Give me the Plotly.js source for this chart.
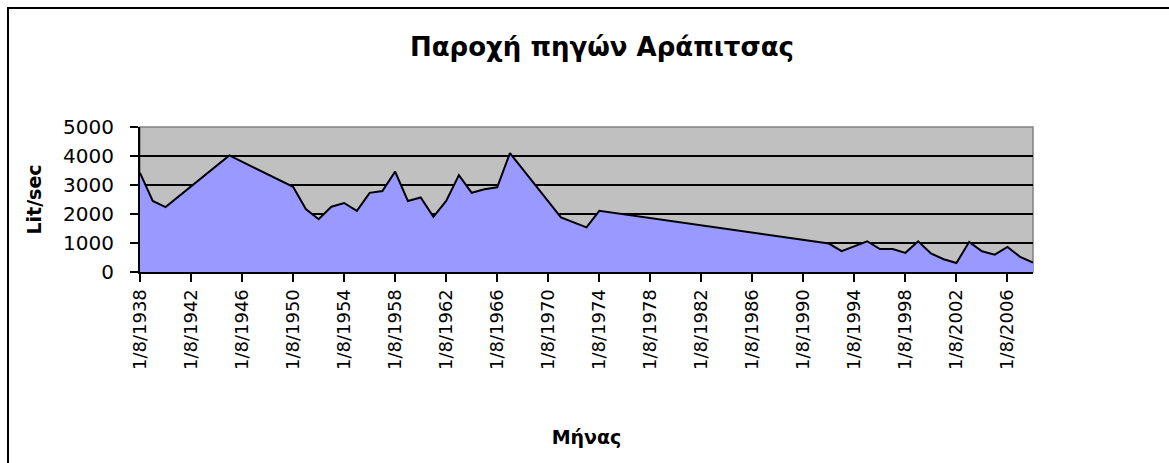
<!DOCTYPE html>
<html>
<head>
<meta charset="utf-8">
<script src="https://cdn.plot.ly/plotly-3.0.1.min.js"></script>
<style>
  html, body { margin: 0; padding: 0; background: #ffffff; }
  #chart { width: 1169px; height: 463px; }
</style>
</head>
<body>
<div id="chart"></div>
<script>
// Dates of the measurements (1 August of each year)
const dates = [
  '1938-08-01','1939-08-01','1940-08-01','1945-08-01','1950-08-01','1951-08-01',
  '1952-08-01','1953-08-01','1954-08-01','1955-08-01','1956-08-01','1957-08-01',
  '1958-08-01','1959-08-01','1960-08-01','1961-08-01','1962-08-01','1963-08-01',
  '1964-08-01','1965-08-01','1966-08-01','1967-08-01','1971-08-01','1973-08-01',
  '1974-08-01','1992-08-01','1993-08-01','1994-08-01','1995-08-01','1996-08-01',
  '1997-08-01','1998-08-01','1999-08-01','2000-08-01','2001-08-01','2002-08-01',
  '2003-08-01','2004-08-01','2005-08-01','2006-08-01','2007-08-01','2008-08-01'
];
// Discharge in Lit/sec
const discharge = [
  3420, 2450, 2240, 4020, 2940, 2170,
  1820, 2250, 2380, 2110, 2730, 2790,
  3460, 2450, 2570, 1900, 2450, 3340,
  2730, 2850, 2920, 4100, 1880, 1540,
  2110, 980, 720, 890, 1060, 790,
  790, 660, 1060, 640, 440, 310,
  1040, 716, 600, 865, 520, 325
];
// Tick positions and labels on the date axis
const tickDates = [
  '1938-08-01','1942-08-01','1946-08-01','1950-08-01','1954-08-01','1958-08-01',
  '1962-08-01','1966-08-01','1970-08-01','1974-08-01','1978-08-01','1982-08-01',
  '1986-08-01','1990-08-01','1994-08-01','1998-08-01','2002-08-01','2006-08-01'
];
const tickLabels = [
  '1/8/1938','1/8/1942','1/8/1946','1/8/1950','1/8/1954','1/8/1958',
  '1/8/1962','1/8/1966','1/8/1970','1/8/1974','1/8/1978','1/8/1982',
  '1/8/1986','1/8/1990','1/8/1994','1/8/1998','1/8/2002','1/8/2006'
];
const xRange = ['1938-08-01', '2008-08-01'];
const yTicks = [0, 1000, 2000, 3000, 4000, 5000];

const chartTitle = 'Παροχή πηγών Αράπιτσας';
const xTitle = 'Μήνας';
const yTitle = 'Lit/sec';

const FONT = 'DejaVu Sans, Arial, sans-serif';

const trace = {
  type: 'scatter',
  mode: 'lines',
  x: dates,
  y: discharge,
  fill: 'tozeroy',
  fillcolor: '#9999FF',
  line: { color: '#000000', width: 2 },
  hoverinfo: 'x+y',
  showlegend: false
};

const L = 140, R = 136, T = 127, B = 191;
const plotW = 1169 - L - R, plotH = 463 - T - B;

const layout = {
  width: 1169,
  height: 463,
  margin: { l: L, r: R, t: T, b: B, pad: 0 },
  paper_bgcolor: '#ffffff',
  plot_bgcolor: '#C0C0C0',
  showlegend: false,
  title: {
    text: '<b>' + chartTitle + '</b>',
    font: { family: FONT, size: 26, color: '#000000' },
    xref: 'container', x: 602 / 1169, xanchor: 'center',
    yref: 'container', y: 1 - 47 / 463, yanchor: 'middle'
  },
  xaxis: {
    type: 'date',
    range: xRange,
    tickmode: 'array',
    tickvals: tickDates,
    ticktext: tickLabels,
    tickangle: -90,
    tickfont: { family: FONT, size: 18, color: '#000000' },
    ticks: 'outside', ticklen: 8, tickwidth: 2, tickcolor: '#000000',
    showline: true, linecolor: '#000000', linewidth: 2,
    showgrid: false, zeroline: false,
    title: {
      text: '<b>' + xTitle + '</b>',
      font: { family: FONT, size: 19, color: '#000000' },
      standoff: 62
    },
    automargin: false,
    fixedrange: true
  },
  yaxis: {
    range: [0, 5000],
    tickmode: 'array',
    tickvals: yTicks,
    ticktext: yTicks.map(String),
    tickfont: { family: FONT, size: 20, color: '#000000' },
    ticks: 'outside', ticklen: 8, tickwidth: 2, tickcolor: '#000000',
    ticklabelstandoff: 12,
    showline: true, linecolor: '#000000', linewidth: 2,
    showgrid: true, gridcolor: '#000000', gridwidth: 1.5,
    zeroline: false,
    title: {
      text: '<b>' + yTitle + '</b>',
      font: { family: FONT, size: 19, color: '#000000' },
      standoff: 16
    },
    automargin: false,
    fixedrange: true
  },
  shapes: [
    {
      type: 'rect', xref: 'paper', yref: 'paper', layer: 'below',
      x0: 0, x1: 1, y0: 0, y1: 1,
      line: { color: '#808080', width: 1.5 }, fillcolor: 'rgba(0,0,0,0)'
    },
    {
      type: 'rect', xref: 'paper', yref: 'paper', layer: 'above',
      x0: (8 - L) / plotW, x1: (1200 - L) / plotW,
      y0: (463 - B - 500) / plotH, y1: (463 - B - 8) / plotH,
      line: { color: '#000000', width: 2 }, fillcolor: 'rgba(0,0,0,0)'
    }
  ]
};

Plotly.newPlot('chart', [trace], layout, { displayModeBar: false, staticPlot: true });
</script>
</body>
</html>
